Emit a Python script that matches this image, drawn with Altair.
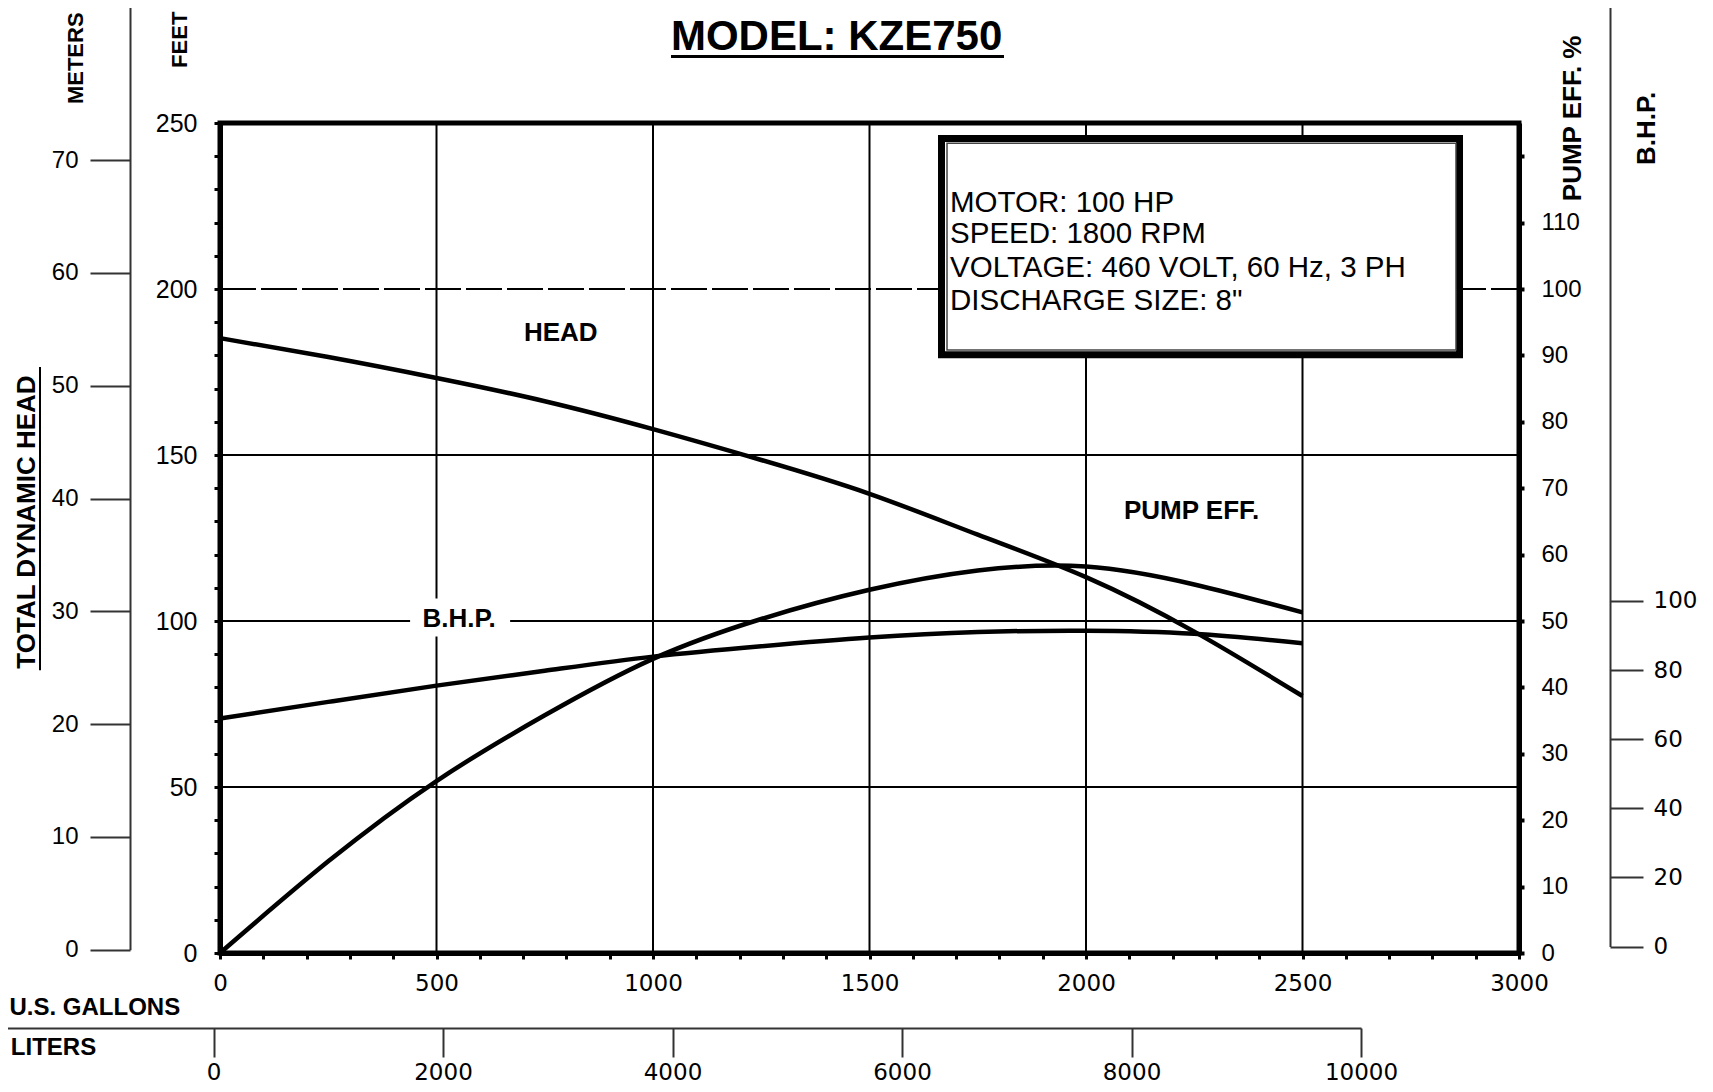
import altair as alt
import pandas as pd

# ---------------- data ----------------
gallons = [0, 250, 500, 750, 1000, 1250, 1500, 1750, 2000, 2250, 2500]
head_ft = [185.2, 179.5, 173.2, 166.2, 157.8, 148.5, 138.3, 126.0, 113.2, 96.8, 77.4]
eff_pct = [0.0, 13.8, 25.9, 35.8, 44.3, 50.3, 54.7, 57.6, 58.2, 55.5, 51.3]
bhp_hp = [66.0, 70.8, 75.5, 79.8, 83.9, 86.9, 89.4, 91.0, 91.4, 90.5, 87.8]

gallon_ticks = list(range(0, 3001, 100))
feet_ticks = list(range(0, 251, 10))
eff_ticks = list(range(0, 121, 10))
bhp_ticks = [0, 20, 40, 60, 80, 100]
meter_ticks = [0, 10, 20, 30, 40, 50, 60, 70]
liter_ticks = [0, 2000, 4000, 6000, 8000, 10000]

grid_gallons = [500, 1000, 1500, 2000, 2500]
grid_feet_solid = [50, 100, 150]
grid_feet_dashed = [200]

title_text = ["MODEL: KZE750"]
motor_lines = ["MOTOR: 100 HP", "SPEED: 1800 RPM",
               "VOLTAGE: 460 VOLT, 60 Hz, 3 PH", 'DISCHARGE SIZE: 8"']
curve_labels = ["HEAD", "PUMP EFF.", "B.H.P."]
side_titles = ["PUMP EFF. %", "B.H.P.", "TOTAL DYNAMIC HEAD"]
cut_titles = ["FEET", "METERS"]
unit_titles = ["U.S. GALLONS", "LITERS"]

# annotation anchor positions, in chart units (gallons, feet)
curve_label_x = [787, 2244, 552]
curve_label_y = [186.7, 133.2, 100.6]
side_title_x = [3125, 3295, -445]
side_title_y = [251.4, 248.4, 129.8]
cut_title_x = [-92, -333]
cut_title_y = [266.6, 255.7]
unit_title_x = [-92, -286]
unit_title_y = [-18.7, -30.7]
motor_x = [1686, 1686, 1686, 1686]
motor_y = [223.3, 213.8, 203.7, 193.7]
title_x = [1424]
title_y = [272.0]

# ---------------- scales ----------------
GAL = alt.Scale(domain=[0, 3000], nice=False, zero=False)
FT = alt.Scale(domain=[0, 250], nice=False, zero=False)
EFF = alt.Scale(domain=[0, 125], nice=False, zero=False)
BHP = alt.Scale(domain=[0, 272.5], range=[823.5, -118], nice=False, zero=False)
MET = alt.Scale(domain=[0, 84.2], range=[826.7, -123], nice=False, zero=False)
LIT = alt.Scale(domain=[-1860.6, 10000], range=[-220, 1141], nice=False, zero=False)

FONT = "Liberation Sans"
WIDE = "DejaVu Sans"

def ax(**kw):
    base = dict(grid=False, title=None, labelFont=FONT, labelColor="black",
                tickColor="black", domainColor="black", labelFlush=False,
                labelOverlap=False, labelBound=False)
    base.update(kw)
    return alt.Axis(**base)

curves = pd.DataFrame({"gal": gallons, "head": head_ft, "eff": eff_pct, "bhp": bhp_hp})

# ---------------- grid ----------------
vgrid = alt.Chart(pd.DataFrame({"x": grid_gallons, "y0": feet_ticks[0], "y1": feet_ticks[-1]})).mark_rule(
    color="black", strokeWidth=2).encode(
    x=alt.X("x:Q", scale=GAL, axis=None),
    y=alt.Y("y0:Q", scale=FT, axis=None), y2="y1:Q")

hgrid = alt.Chart(pd.DataFrame({"y": grid_feet_solid, "x0": gallon_ticks[0], "x1": gallon_ticks[-1]})).mark_rule(
    color="black", strokeWidth=2).encode(
    y=alt.Y("y:Q", scale=FT, axis=None),
    x=alt.X("x0:Q", scale=GAL, axis=None), x2="x1:Q")

hdash = alt.Chart(pd.DataFrame({"y": grid_feet_dashed, "x0": gallon_ticks[0], "x1": gallon_ticks[-1]})).mark_rule(
    color="black", strokeWidth=2, strokeDash=[36, 5]).encode(
    y=alt.Y("y:Q", scale=FT, axis=None),
    x=alt.X("x0:Q", scale=GAL, axis=None), x2="x1:Q")

# white patch behind the B.H.P. label
bhp_patch = alt.Chart(pd.DataFrame({"x0": [439], "x1": [670], "y0": [95.3], "y1": [106.8]})).mark_rect(
    color="white").encode(
    x=alt.X("x0:Q", scale=GAL, axis=None), x2="x1:Q",
    y=alt.Y("y0:Q", scale=FT, axis=None), y2="y1:Q")

# ---------------- curves with their axes ----------------
head_line = alt.Chart(curves).mark_line(color="black", strokeWidth=4.5, interpolate="natural").encode(
    x=alt.X("gal:Q", scale=GAL, axis=ax(orient="bottom", values=gallon_ticks, format="d",
                                       labelExpr="datum.value % 500 == 0 ? datum.label : ''",
                                       tickSize=6, tickWidth=3, domainWidth=5, labelFont=WIDE,
                                       labelFontSize=23, labelPadding=13)),
    y=alt.Y("head:Q", scale=FT, axis=ax(orient="left", values=feet_ticks, format="d",
                                       labelExpr="datum.value % 50 == 0 ? datum.label : ''",
                                       tickSize=6, tickWidth=3, domainWidth=5,
                                       labelFontSize=25, labelPadding=17)))

eff_line = alt.Chart(curves).mark_line(color="black", strokeWidth=4.5, interpolate="natural").encode(
    x=alt.X("gal:Q", scale=GAL, axis=None),
    y=alt.Y("eff:Q", scale=EFF, axis=ax(orient="right", values=eff_ticks, format="d",
                                      labelExpr="datum.value <= 110 ? datum.label : ''",
                                      tickSize=5, tickWidth=4, domainWidth=5,
                                      labelFontSize=24, labelPadding=17)))

bhp_line = alt.Chart(curves).mark_line(color="black", strokeWidth=4.5, interpolate="natural").encode(
    x=alt.X("gal:Q", scale=GAL, axis=None),
    y=alt.Y("bhp:Q", scale=BHP, axis=ax(orient="right", offset=91, values=bhp_ticks, format="d",
                                      tickSize=33, tickWidth=2, domainWidth=2,
                                      tickColor="#333333", domainColor="#333333",
                                      labelFont=WIDE, labelFontSize=23, labelPadding=10)))

meters_axis = alt.Chart(pd.DataFrame({"m": meter_ticks})).mark_point(opacity=0).encode(
    y=alt.Y("m:Q", scale=MET, axis=ax(orient="left", offset=90, values=meter_ticks, format="d",
                                    tickSize=40, tickWidth=2, domainWidth=2,
                                    tickColor="#333333", domainColor="#333333",
                                    labelFontSize=24, labelPadding=12)))

liters_axis = alt.Chart(pd.DataFrame({"L": liter_ticks})).mark_point(opacity=0).encode(
    x=alt.X("L:Q", scale=LIT, axis=ax(orient="bottom", offset=75, values=liter_ticks, format="d",
                                    tickSize=29, tickWidth=2, domainWidth=2,
                                    tickColor="#333333", domainColor="#333333",
                                    labelFont=WIDE, labelFontSize=23, labelPadding=4)))

# ---------------- text annotations ----------------
def text_layer(xs, ys, texts, **mk):
    df = pd.DataFrame({"x": xs, "y": ys, "t": texts})
    style = dict(font=FONT, color="black")
    style.update(mk)
    return alt.Chart(df).mark_text(**style).encode(
        x=alt.X("x:Q", scale=GAL, axis=None),
        y=alt.Y("y:Q", scale=FT, axis=None),
        text="t:N")

curve_text = text_layer(curve_label_x, curve_label_y, curve_labels,
                        fontSize=26, fontWeight="bold", align="center", baseline="middle")

side_text = text_layer(side_title_x, side_title_y, side_titles,
                       fontSize=26, fontWeight="bold", align="center", baseline="middle", angle=270)

cut_text = text_layer(cut_title_x, cut_title_y, cut_titles,
                      fontSize=22, fontWeight="bold", align="left", baseline="middle", angle=270)

unit_text = text_layer(unit_title_x, unit_title_y, unit_titles,
                       fontSize=24, fontWeight="bold", align="right", baseline="alphabetic")

title_mark = text_layer(title_x, title_y, title_text,
                        fontSize=42, fontWeight="bold", align="center", baseline="alphabetic")

motor_text = text_layer(motor_x, motor_y, motor_lines,
                        fontSize=29.5, align="left", baseline="alphabetic")

# underlines
def rule_layer(x0, x1, y0, y1, width):
    df = pd.DataFrame({"x0": [x0], "x1": [x1], "y0": [y0], "y1": [y1]})
    return alt.Chart(df).mark_rule(color="black", strokeWidth=width).encode(
        x=alt.X("x0:Q", scale=GAL, axis=None), x2="x1:Q",
        y=alt.Y("y0:Q", scale=FT, axis=None), y2="y1:Q")

title_underline = rule_layer(1041.6, 1810.6, 270.0, 270.0, 3)
tdh_underline = rule_layer(-415.7, -415.7, 176.5, 85.2, 2)

# spec box (double frame)
box_outer = alt.Chart(pd.DataFrame({"x0": [1666.3], "x1": [2862.6], "y0": [180.2], "y1": [245.3]})).mark_rect(
    stroke="black", strokeWidth=7, fill="white").encode(
    x=alt.X("x0:Q", scale=GAL, axis=None), x2="x1:Q",
    y=alt.Y("y0:Q", scale=FT, axis=None), y2="y1:Q")
box_inner = alt.Chart(pd.DataFrame({"x0": [1679.0], "x1": [2854.5], "y0": [181.6], "y1": [243.9]})).mark_rect(
    stroke="#444444", strokeWidth=1.5, fillOpacity=0).encode(
    x=alt.X("x0:Q", scale=GAL, axis=None), x2="x1:Q",
    y=alt.Y("y0:Q", scale=FT, axis=None), y2="y1:Q")

chart = alt.layer(
    vgrid, hgrid, hdash, bhp_patch,
    head_line, eff_line, bhp_line, meters_axis, liters_axis,
    curve_text, box_outer, box_inner, motor_text,
    title_mark, title_underline, side_text, cut_text, unit_text, tdh_underline,
).resolve_scale(
    x="independent", y="independent"
).properties(
    width=1299, height=830,
    autosize=alt.AutoSizeParams(type="none"),
    padding={"left": 212, "top": 115, "right": 180, "bottom": 131},
    background="white",
).configure_view(
    stroke="black", strokeWidth=5
)

chart.save("out.html", embed_options={"renderer": "svg", "actions": False})
